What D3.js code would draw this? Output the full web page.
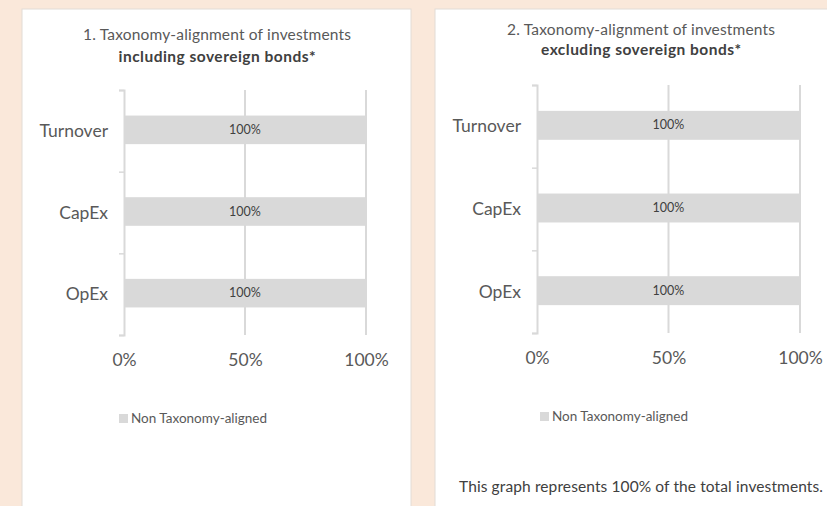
<!DOCTYPE html>
<html lang="en">
<head>
    <meta charset="UTF-8">
    <script src="https://d3js.org/d3.v7.min.js"></script>
    <title>Taxonomy-alignment of investments</title>
    <style>
        body { margin: 0; background: #fae8da; }
        text { font-family: Lato, "Open Sans", sans-serif; }
    </style>
</head>
<body>
    <div id="chart"></div>
    <script>
        // data
        const categories = ["Turnover", "CapEx", "OpEx"];
        const nonAlignedIncl = [100, 100, 100];
        const nonAlignedExcl = [100, 100, 100];
        const xTicks = [0, 50, 100];
        const legendLabel = "Non Taxonomy-aligned";
        const footnote = "This graph represents 100% of the total investments.";

        const W = 827, H = 506;
        const svg = d3.select("#chart").append("svg")
            .attr("width", W).attr("height", H);

        svg.append("rect").attr("width", W).attr("height", H).attr("fill", "#fae8da");

        // white panels
        svg.append("rect").attr("x", 22).attr("y", 9).attr("width", 389).attr("height", 510)
            .attr("fill", "#fff").attr("stroke", "#e2dcd6").attr("stroke-width", 1);
        svg.append("rect").attr("x", 435).attr("y", 9).attr("width", 400).attr("height", 510)
            .attr("fill", "#fff").attr("stroke", "#e2dcd6").attr("stroke-width", 1);

        function drawPanel(opts, values) {
            const g = svg.append("g");

            // title
            g.append("text").attr("x", opts.cx).attr("y", opts.titleY)
                .attr("text-anchor", "middle").attr("fill", "#595959")
                .style("font-size", "15.5px").attr("textLength", 268).text(opts.title1);
            g.append("text").attr("x", opts.cx).attr("y", opts.titleY + opts.gap)
                .attr("text-anchor", "middle").attr("fill", "#404040")
                .style("font-size", "15.5px").style("font-weight", "bold")
                .attr("textLength", opts.t2len).text(opts.title2);

            const x = d3.scaleLinear().domain([0, 100]).range([opts.x0, opts.x1]);
            const y = d3.scaleBand().domain(categories).range([opts.y0, opts.y1]).padding(0);
            const yIdx = d3.scaleLinear().domain([0, categories.length]).range([opts.y0, opts.y1]);

            // gridlines
            g.selectAll(".grid").data(xTicks.slice(1)).join("line")
                .attr("x1", d => x(d)).attr("x2", d => x(d))
                .attr("y1", opts.y0).attr("y2", opts.y1)
                .attr("stroke", "#d9d9d9").attr("stroke-width", 2);

            // bars
            const barH = y.bandwidth() * 0.35;
            g.selectAll(".bar").data(categories).join("rect")
                .attr("x", x(0))
                .attr("y", d => y(d) + y.bandwidth() / 2 - barH / 2 - 1)
                .attr("width", (d, i) => x(values[i]) - x(0))
                .attr("height", barH)
                .attr("fill", "#d9d9d9");

            g.selectAll(".lbl").data(categories).join("text")
                .attr("x", (d, i) => x(values[i] / 2))
                .attr("y", d => y(d) + y.bandwidth() / 2 + 3)
                .attr("text-anchor", "middle").attr("fill", "#404040")
                .style("font-size", "12.5px")
                .text((d, i) => values[i] + "%");

            // y axis with ticks between categories
            const yAxis = g.append("g").attr("transform", `translate(${opts.x0},0)`)
                .call(d3.axisLeft(yIdx).ticks(categories.length).tickSize(5).tickFormat(""));
            yAxis.selectAll("path").attr("stroke", "#d9d9d9").attr("stroke-width", 2);
            yAxis.selectAll("line").attr("stroke", "#d9d9d9").attr("stroke-width", 1.5);

            g.selectAll(".cat").data(categories).join("text")
                .attr("x", opts.x0 - 16)
                .attr("y", d => y(d) + y.bandwidth() / 2 + 6)
                .attr("text-anchor", "end").attr("fill", "#595959")
                .style("font-size", "17.5px").text(d => d);

            // x tick labels
            const xAxis = g.append("g").attr("transform", `translate(0,${opts.y1})`)
                .call(d3.axisBottom(x).tickValues(xTicks).tickSize(0).tickPadding(19)
                    .tickFormat(d => d + "%"));
            xAxis.select(".domain").remove();
            xAxis.selectAll("text").attr("fill", "#595959")
                .style("font-size", "17.5px").style("font-family", "Lato, sans-serif");

            // legend
            g.append("rect").attr("x", opts.legX).attr("y", opts.legY - 9)
                .attr("width", 9).attr("height", 9).attr("fill", "#d9d9d9");
            g.append("text").attr("x", opts.legX + 12).attr("y", opts.legY)
                .attr("fill", "#595959").style("font-size", "13.5px").text(legendLabel);
        }

        drawPanel({
            title1: "1. Taxonomy-alignment of investments",
            title2: "including sovereign bonds*",
            t2len: 197,
            cx: 217, titleY: 40, gap: 22,
            x0: 124, x1: 366, y0: 90, y1: 335,
            legX: 119, legY: 423
        }, nonAlignedIncl);

        drawPanel({
            title1: "2. Taxonomy-alignment of investments",
            title2: "excluding sovereign bonds*",
            t2len: 200,
            cx: 641, titleY: 35, gap: 20,
            x0: 537, x1: 800, y0: 85, y1: 333,
            legX: 540, legY: 421
        }, nonAlignedExcl);

        svg.append("text").attr("x", 459).attr("y", 492)
            .attr("fill", "#404040").style("font-size", "15.5px")
            .attr("textLength", 364).text(footnote);
    </script>
</body>
</html>
